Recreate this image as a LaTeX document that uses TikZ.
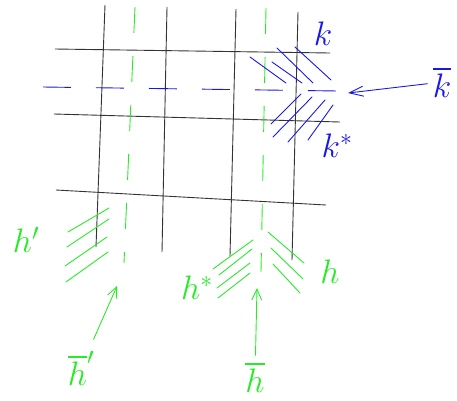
\documentclass[tikz,border=0pt]{standalone}
\usepackage{fix-cm}
\usepackage{amsmath,amssymb}
\usepackage{tikz}
\usetikzlibrary{arrows.meta, positioning, calc}
\usepackage{xcolor}
\definecolor{penblue}{RGB}{25,25,230}
\definecolor{pengreen}{RGB}{40,235,40}

\begin{document}
\begin{tikzpicture}[x=1pt, y=-1pt,
  gridline/.style={draw=black!80, line width=0.9pt},
  gdash/.style={draw=pengreen, line width=0.9pt, dash pattern=on 26pt off 23pt},
  bdash/.style={draw=penblue, line width=0.9pt, dash pattern=on 28pt off 25pt},
  ghatch/.style={draw=pengreen, line width=0.9pt, line cap=round},
  bhatch/.style={draw=penblue, line width=0.9pt, line cap=round},
  glabel/.style={text=pengreen, font=\fontsize{34}{38}\selectfont, inner sep=0pt},
  blabel/.style={text=penblue, font=\fontsize{34}{38}\selectfont, inner sep=0pt},
  garrow/.style={-{Straight Barb[length=11pt,width=10pt]}, draw=pengreen, line width=0.9pt},
  barrow/.style={-{Straight Barb[length=14pt,width=10pt]}, draw=penblue, line width=0.9pt}
]
\useasboundingbox (0,0) rectangle (457,400);

\draw[gridline] (105,5) -- (96,247);
\draw[gridline] (167,7) -- (162,252);
\draw[gridline] (236,9) -- (230,256);
\draw[gridline] (298,12) -- (292,260);
\draw[gridline] (55,49) -- (330,53);
\draw[gridline] (54,114) -- (340,122);
\draw[gridline] (56,190) -- (326,205);

\draw[gdash] (135,7) -- (124,263);
\draw[gdash] (266,8) -- (261,272);
\draw[bdash] (43,87) -- (338,91);

\foreach \a/\b in {{(250,57)}/{(286,83)}, {(272,62)}/{(302,83)}, {(277,48)}/{(313,83)}, {(295,47)}/{(331,80)},
                   {(301,94)}/{(271,124)}, {(312,97)}/{(273,137)}, {(325,100)}/{(288,142)}, {(333,105)}/{(308,140)}}
  \draw[bhatch] \a -- \b;
\foreach \a/\b in {{(68,232)}/{(109,208)}, {(67,247)}/{(109,219)}, {(65,266)}/{(107,237)}, {(66,282)}/{(108,252)},
                   {(213,269)}/{(253,240)}, {(219,275)}/{(252,249)}, {(217,288)}/{(250,263)}, {(218,298)}/{(250,273)},
                   {(268,232)}/{(304,263)}, {(271,248)}/{(303,279)}, {(273,264)}/{(300,293)}}
  \draw[ghatch] \a -- \b;

\node[blabel] (k) at (323,34) {$k$};
\node[blabel] (kstar) at (337,146) {$k^*$};
\node[blabel] (kbar) at (442,82) {$\overline{k}$};
\node[glabel] (hprime) at (26,240) {$h'$};
\node[glabel] (hstar) at (197,288) {$h^*$};
\node[glabel] (h) at (330,272) {$h$};
\node[glabel] (hbarprime) at (81,368) {$\overline{h}'$};
\node[glabel] (hbar) at (255,377) {$\overline{h}$};

\coordinate (ktip) at (348,93);
\coordinate (hprimetip) at (117,286);
\coordinate (htip) at (257,288);

\draw[barrow, shorten <=5pt] (kbar) -- (ktip);
\draw[garrow, shorten <=12pt] (hbarprime) -- (hprimetip);
\draw[garrow, shorten <=6pt] (hbar) -- (htip);
\end{tikzpicture}
\end{document}
